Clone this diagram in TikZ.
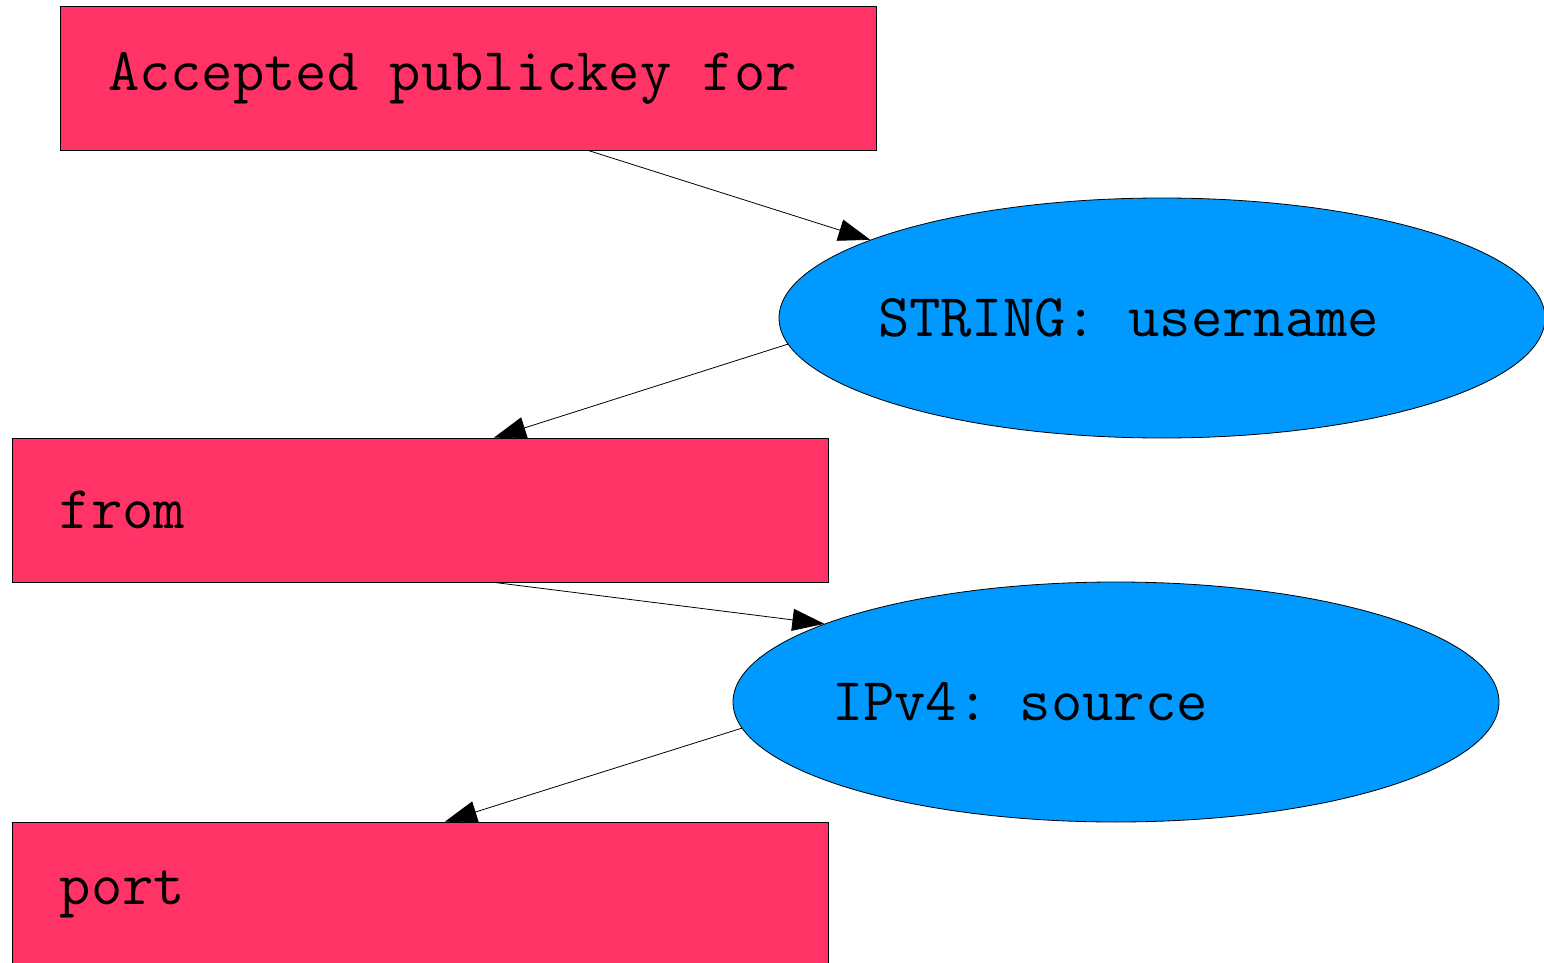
\documentclass[tikz,border=0pt]{standalone}
\usepackage{fontspec}
\setmonofont{Latin Modern Mono}[WordSpace={1,0,0}]
\usetikzlibrary{shapes,arrows.meta,positioning}
\definecolor{wordred}{HTML}{FF3366}
\definecolor{fieldblue}{HTML}{0099FF}
\tikzset{word/.style={rectangle,draw,thin,fill=wordred,minimum width=408pt,minimum height=72pt,
                      text width=360pt,align=left,inner xsep=24pt,font=\ttfamily\fontsize{30.4}{34}\selectfont,
                      execute at begin node={\spaceskip=0pt\xspaceskip=0pt}},
         field/.style={ellipse,draw,thin,fill=fieldblue,minimum width=383pt,minimum height=120pt,
                       text width=284pt,align=left,inner xsep=-7pt,inner ysep=0pt,font=\ttfamily\fontsize{30.4}{34}\selectfont,
                       execute at begin node={\spaceskip=0pt\xspaceskip=0pt}},
         edge/.style={->, thin}
}
\begin{document}
\begin{tikzpicture}[->,>={Triangle[length=16pt,width=11pt]},x=0.5pt,y=-0.5pt]
      \useasboundingbox (0,0) rectangle (1544,963);
      \node[word]  (accepted) at (468,78)   {Accepted publickey for};
      \node[field] (username) at (1162,318) {STRING: username};
      \node[word]  (from)     at (420,510)  {from};
      \node[field] (source)   at (1116,702) {IPv4: source};
      \node[word]  (port)     at (420,894)  {port};
      \draw[edge] ([xshift=60pt]accepted.south) -- (username.165.5);
      \draw[edge] (username.-176) -- ([xshift=37pt]from.north);
      \draw[edge] ([xshift=37pt]from.south) -- (source.165.7);
      \draw[edge] (source.-176) -- ([xshift=12.5pt]port.north);
    \end{tikzpicture}
\end{document}
